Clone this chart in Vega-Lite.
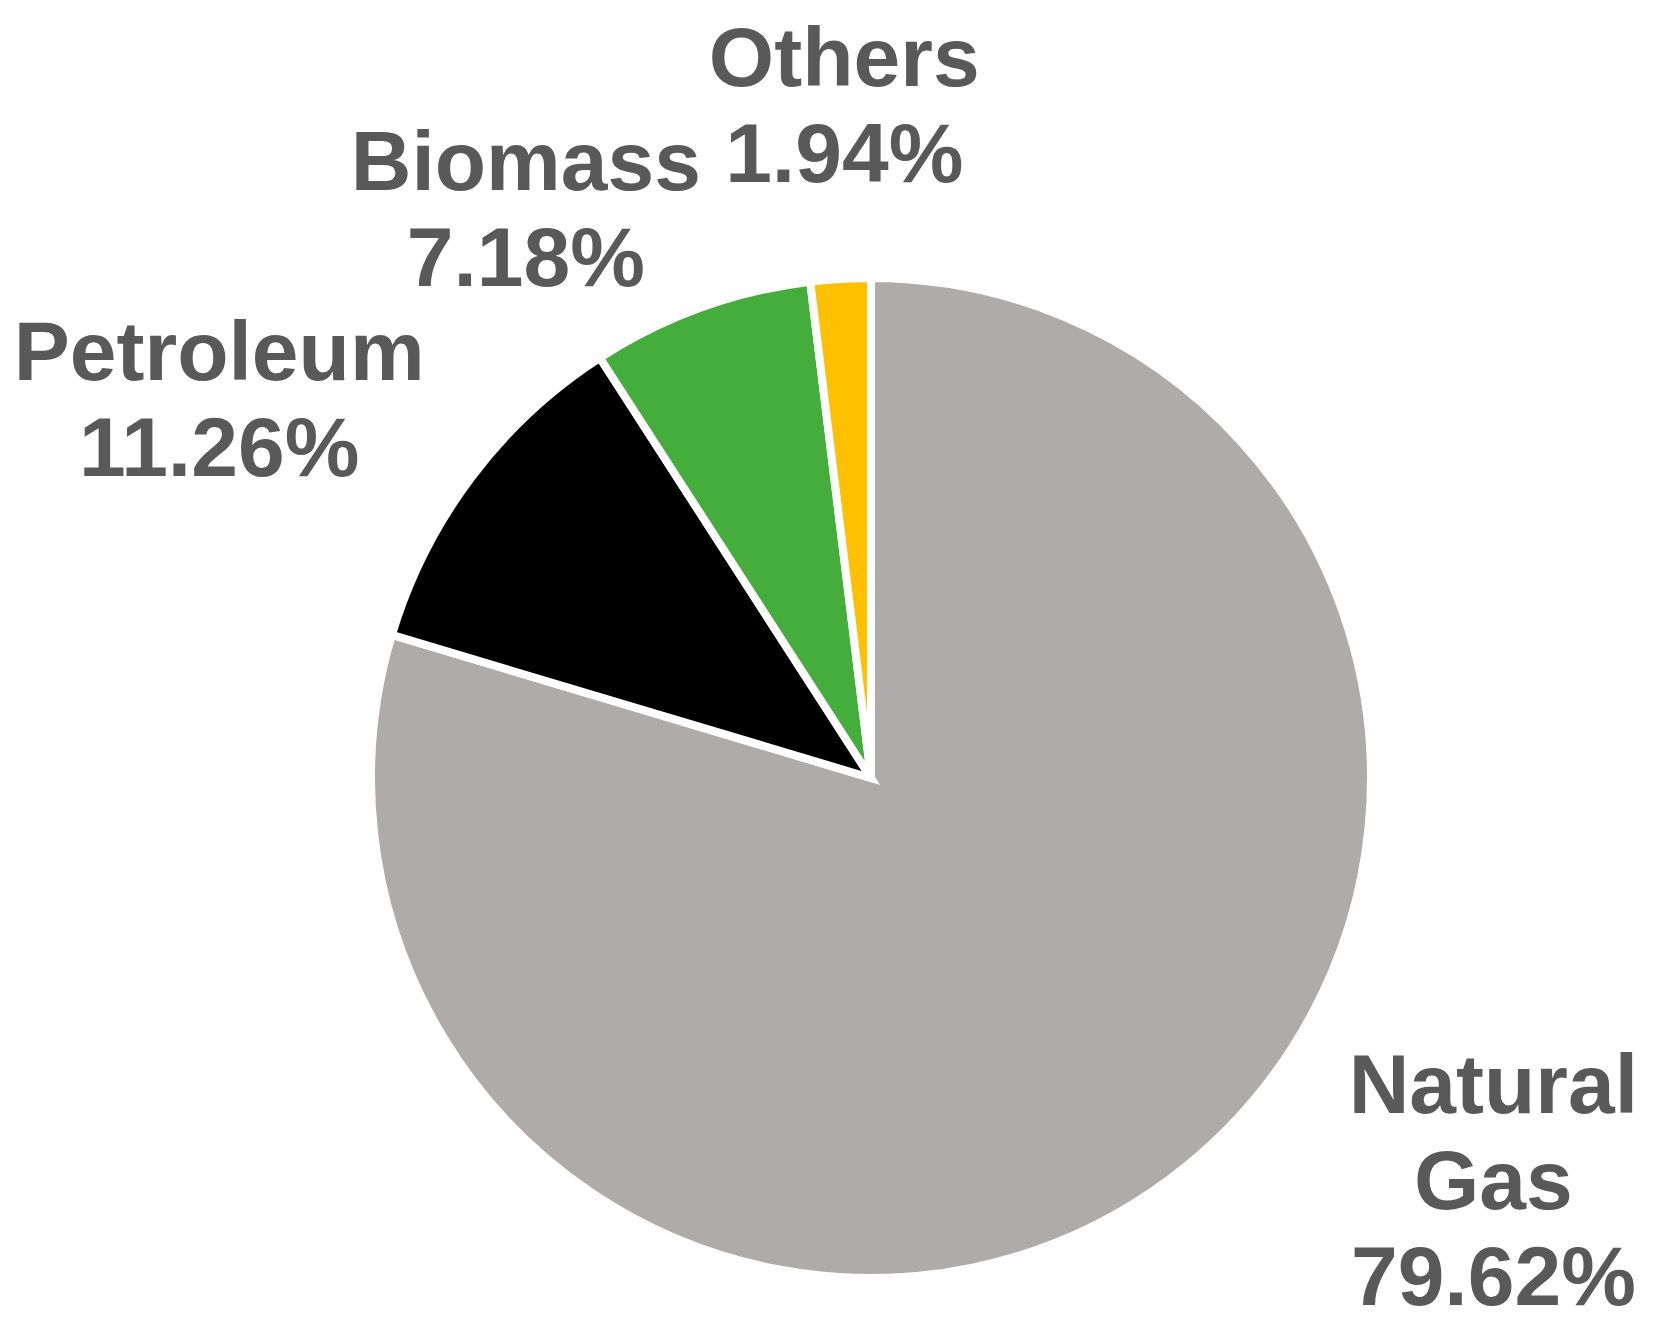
{
  "$schema": "https://vega.github.io/schema/vega-lite/v6.json",
  "width": 1564,
  "height": 1108,
  "autosize": {"type": "none"},
  "padding": {"left": 89, "top": 224, "right": 0, "bottom": 0},
  "background": "white",
  "view": {"stroke": null},
  "data": {
    "values": [
      {"source": "Natural Gas", "value": 79.62},
      {"source": "Petroleum", "value": 11.26},
      {"source": "Biomass", "value": 7.18},
      {"source": "Others", "value": 1.94}
    ]
  },
  "transform": [
    {"calculate": "datum.source + ' ' + format(datum.value, '.2f') + '%'", "as": "label"}
  ],
  "encoding": {
    "theta": {"field": "value", "type": "quantitative", "stack": true},
    "order": {"field": "value", "type": "quantitative", "sort": "descending"}
  },
  "layer": [
    {
      "mark": {"type": "arc", "outerRadius": 500, "stroke": "white", "strokeWidth": 8},
      "encoding": {
        "color": {
          "field": "source",
          "type": "nominal",
          "scale": {
            "domain": ["Natural Gas", "Petroleum", "Biomass", "Others"],
            "range": ["#AFABAB", "#000000", "#44AD3B", "#FFC000"]
          },
          "legend": null
        }
      }
    },
    {
      "mark": {"type": "text", "radius": 620, "dx": 252, "dy": -162, "font": "Liberation Sans", "fontWeight": "bold", "fontSize": 84, "lineHeight": 96, "lineBreak": " ", "align": "center", "baseline": "alphabetic", "color": "#595959"},
      "encoding": {
        "detail": {"field": "source", "type": "nominal"},
        "text": {"condition": {"test": "datum.source === 'Natural Gas'", "field": "label", "type": "nominal"}, "value": ""}
      }
    },
    {
      "mark": {"type": "text", "radius": 620, "dx": -156, "dy": -26, "font": "Liberation Sans", "fontWeight": "bold", "fontSize": 84, "lineHeight": 96, "lineBreak": " ", "align": "center", "baseline": "alphabetic", "color": "#595959"},
      "encoding": {
        "detail": {"field": "source", "type": "nominal"},
        "text": {"condition": {"test": "datum.source === 'Petroleum'", "field": "label", "type": "nominal"}, "value": ""}
      }
    },
    {
      "mark": {"type": "text", "radius": 620, "dx": -134, "dy": -5, "font": "Liberation Sans", "fontWeight": "bold", "fontSize": 84, "lineHeight": 96, "lineBreak": " ", "align": "center", "baseline": "alphabetic", "color": "#595959"},
      "encoding": {
        "detail": {"field": "source", "type": "nominal"},
        "text": {"condition": {"test": "datum.source === 'Biomass'", "field": "label", "type": "nominal"}, "value": ""}
      }
    },
    {
      "mark": {"type": "text", "radius": 620, "dx": 11, "dy": -73, "font": "Liberation Sans", "fontWeight": "bold", "fontSize": 84, "lineHeight": 96, "lineBreak": " ", "align": "center", "baseline": "alphabetic", "color": "#595959"},
      "encoding": {
        "detail": {"field": "source", "type": "nominal"},
        "text": {"condition": {"test": "datum.source === 'Others'", "field": "label", "type": "nominal"}, "value": ""}
      }
    }
  ]
}
